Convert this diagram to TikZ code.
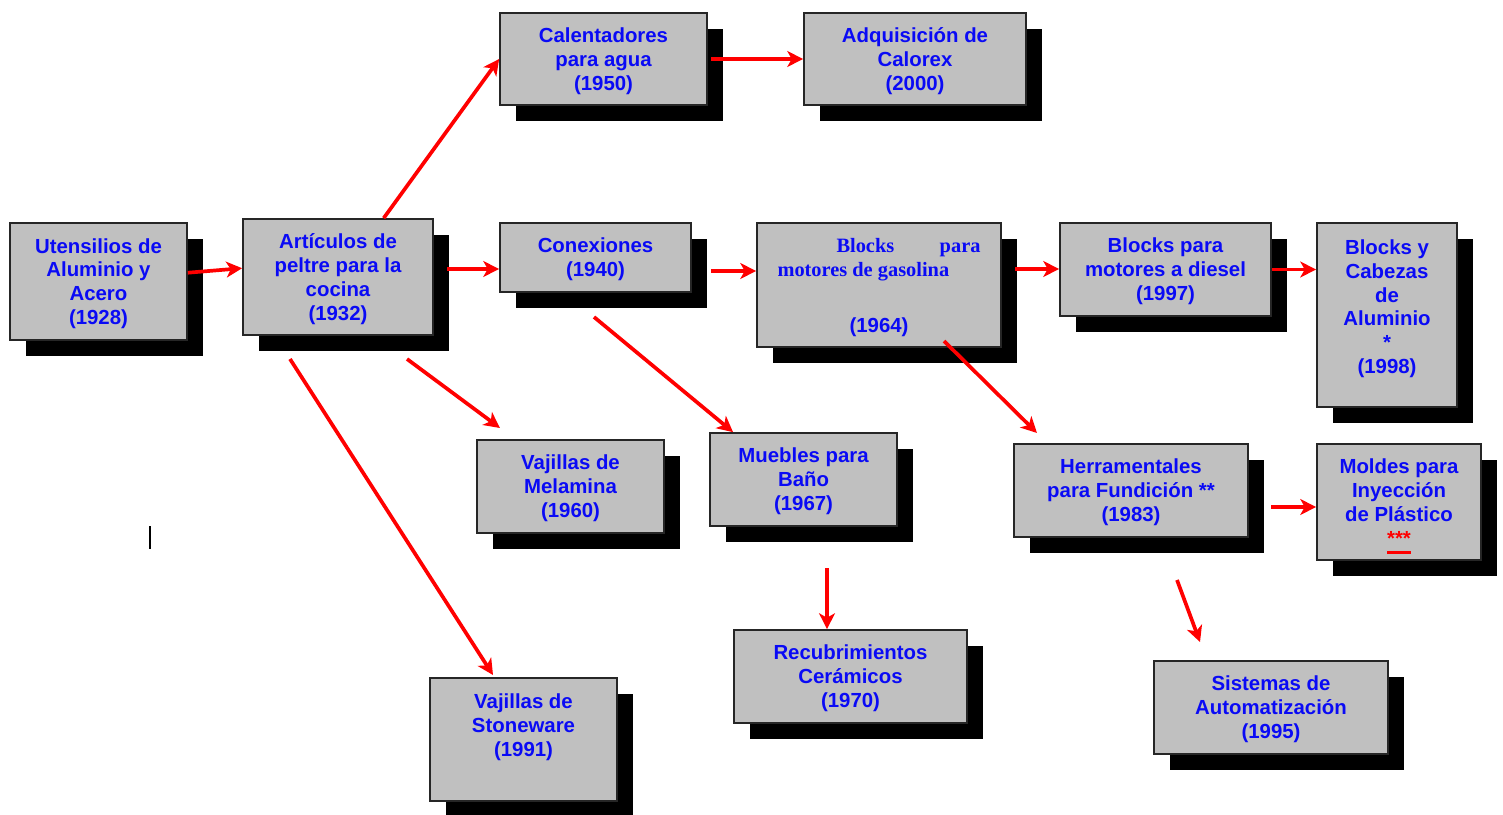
\documentclass[tikz,border=0pt]{standalone}
\usepackage{fontspec}
\setsansfont{Liberation Sans}
\setmainfont{Liberation Serif}
\usetikzlibrary{arrows.meta,shadows}

\definecolor{boxgray}{RGB}{192,192,192}
\definecolor{txtblue}{RGB}{10,10,245}

\tikzset{
  hito/.style={draw=black!85, line width=1pt, fill=boxgray, text=txtblue,
    font=\sffamily\bfseries\fontsize{11.6}{13.6}\selectfont, align=center,
    inner sep=2pt, minimum height=1.86cm, text depth=-0.5pt,
    drop shadow={shadow xshift=9pt, shadow yshift=-9pt, fill=black, opacity=1}},
  flecha/.style={draw=red, line width=2.1pt,
    -{Stealth[length=9pt,width=9pt,inset=2.5pt]}}
}

\begin{document}
\begin{tikzpicture}[x=0.02cm, y=-0.02cm]
    \useasboundingbox (0,0) rectangle (1503,814);

    % Boxes (one per year)
    \node[hito, minimum width=3.54cm, minimum height=2.34cm] (uten) at (98.5,281.5)
        {Utensilios de\\Aluminio y\\Acero\\(1928)};
    \node[hito, minimum width=3.8cm, minimum height=2.32cm] (artic) at (338,277)
        {Artículos de\\peltre para la\\cocina\\(1932)};
    \node[hito, minimum width=4.14cm, minimum height=1.84cm] (calent) at (603.5,59)
        {Calentadores\\para agua\\(1950)};
    \node[hito, minimum width=4.44cm, minimum height=1.84cm] (adqui) at (915,59)
        {Adquisición de\\Calorex\\(2000)};
    \node[hito, minimum width=3.82cm, minimum height=1.38cm] (conex) at (595.5,257.5)
        {Conexiones\\(1940)};
    \node[hito, minimum width=4.88cm, minimum height=2.48cm] (gasol) at (879,285)
        {\parbox{4.06cm}{\rmfamily\hspace*{1.18cm}Blocks\hfill para\\motores de gasolina}\\[19.9pt](1964)};
    \node[hito, minimum width=4.22cm] (diesel) at (1165.5,269.5)
        {Blocks para\\motores a diesel\\(1997)};
    \node[hito, minimum width=2.8cm, minimum height=3.68cm, text depth=9.6pt] (cabez) at (1387,315)
        {Blocks y\\Cabezas\\de\\Aluminio\\*\\(1998)};
    \node[hito, minimum width=3.74cm] (melam) at (570.5,486.5)
        {Vajillas de\\Melamina\\(1960)};
    \node[hito, minimum width=3.74cm] (muebl) at (803.5,479.5)
        {Muebles para\\Baño\\(1967)};
    \node[hito, minimum width=4.68cm] (herra) at (1131,490.5)
        {Herramentales\\para Fundición **\\(1983)};
    \node[hito, minimum width=3.28cm, minimum height=2.32cm] (molde) at (1399,502)
        {Moldes para\\Inyección\\de Plástico\\\textcolor{red}{***\llap{\rule[-5pt]{13.5pt}{1.6pt}}}};
    \node[hito, minimum width=4.66cm] (recub) at (850.5,676.5)
        {Recubrimientos\\Cerámicos\\(1970)};
    \node[hito, minimum width=4.68cm] (siste) at (1271,707.5)
        {Sistemas de\\Automatización\\(1995)};
    \node[hito, minimum width=3.74cm, minimum height=2.46cm, text depth=16pt] (stone) at (523.5,739.5)
        {Vajillas de\\Stoneware\\(1991)};

    % Free arrow ends
    \coordinate (a3) at (447,269);
    \coordinate (a4) at (407,359);
    \coordinate (b4) at (500,428);
    \coordinate (a5) at (290,359);
    \coordinate (b5) at (493,675);
    \coordinate (a7) at (711,271);
    \coordinate (a8) at (594,317);
    \coordinate (a9) at (1015,269);
    \coordinate (a10) at (944,341);
    \coordinate (b10) at (1037,433);
    \coordinate (a12) at (827,568);
    \coordinate (a13) at (1271,507);
    \coordinate (a14) at (1177,580);
    \coordinate (b14) at (1200,642);

    % Arrows
    \draw[flecha] ([yshift=5pt]uten.east) -- ([yshift=5pt]artic.west);
    \draw[flecha] ([xshift=26pt]artic.north) -- (calent.west);
    \draw[flecha] (a3) -- (a3 -| conex.west);
    \draw[flecha] (a4) -- (b4);
    \draw[flecha] (a5) -- (b5);
    \draw[flecha] ([xshift=2pt]calent.east) -- (adqui.west);
    \draw[flecha] (a7) -- (a7 -| gasol.west);
    \draw[flecha] (a8) -- ([xshift=13.6pt]muebl.north west);
    \draw[flecha] (a9) -- (a9 -| diesel.west);
    \draw[flecha] (a10) -- (b10);
    \draw[flecha] (diesel.east) -- (diesel.east -| cabez.west);
    \draw[flecha] (a12) -- (a12 |- recub.north);
    \draw[flecha] (a13) -- (a13 -| molde.west);
    \draw[flecha] (a14) -- (b14);

    % Stray mark
    \draw[line width=1.2pt] (150,526) -- (150,549);

\end{tikzpicture}
\end{document}
